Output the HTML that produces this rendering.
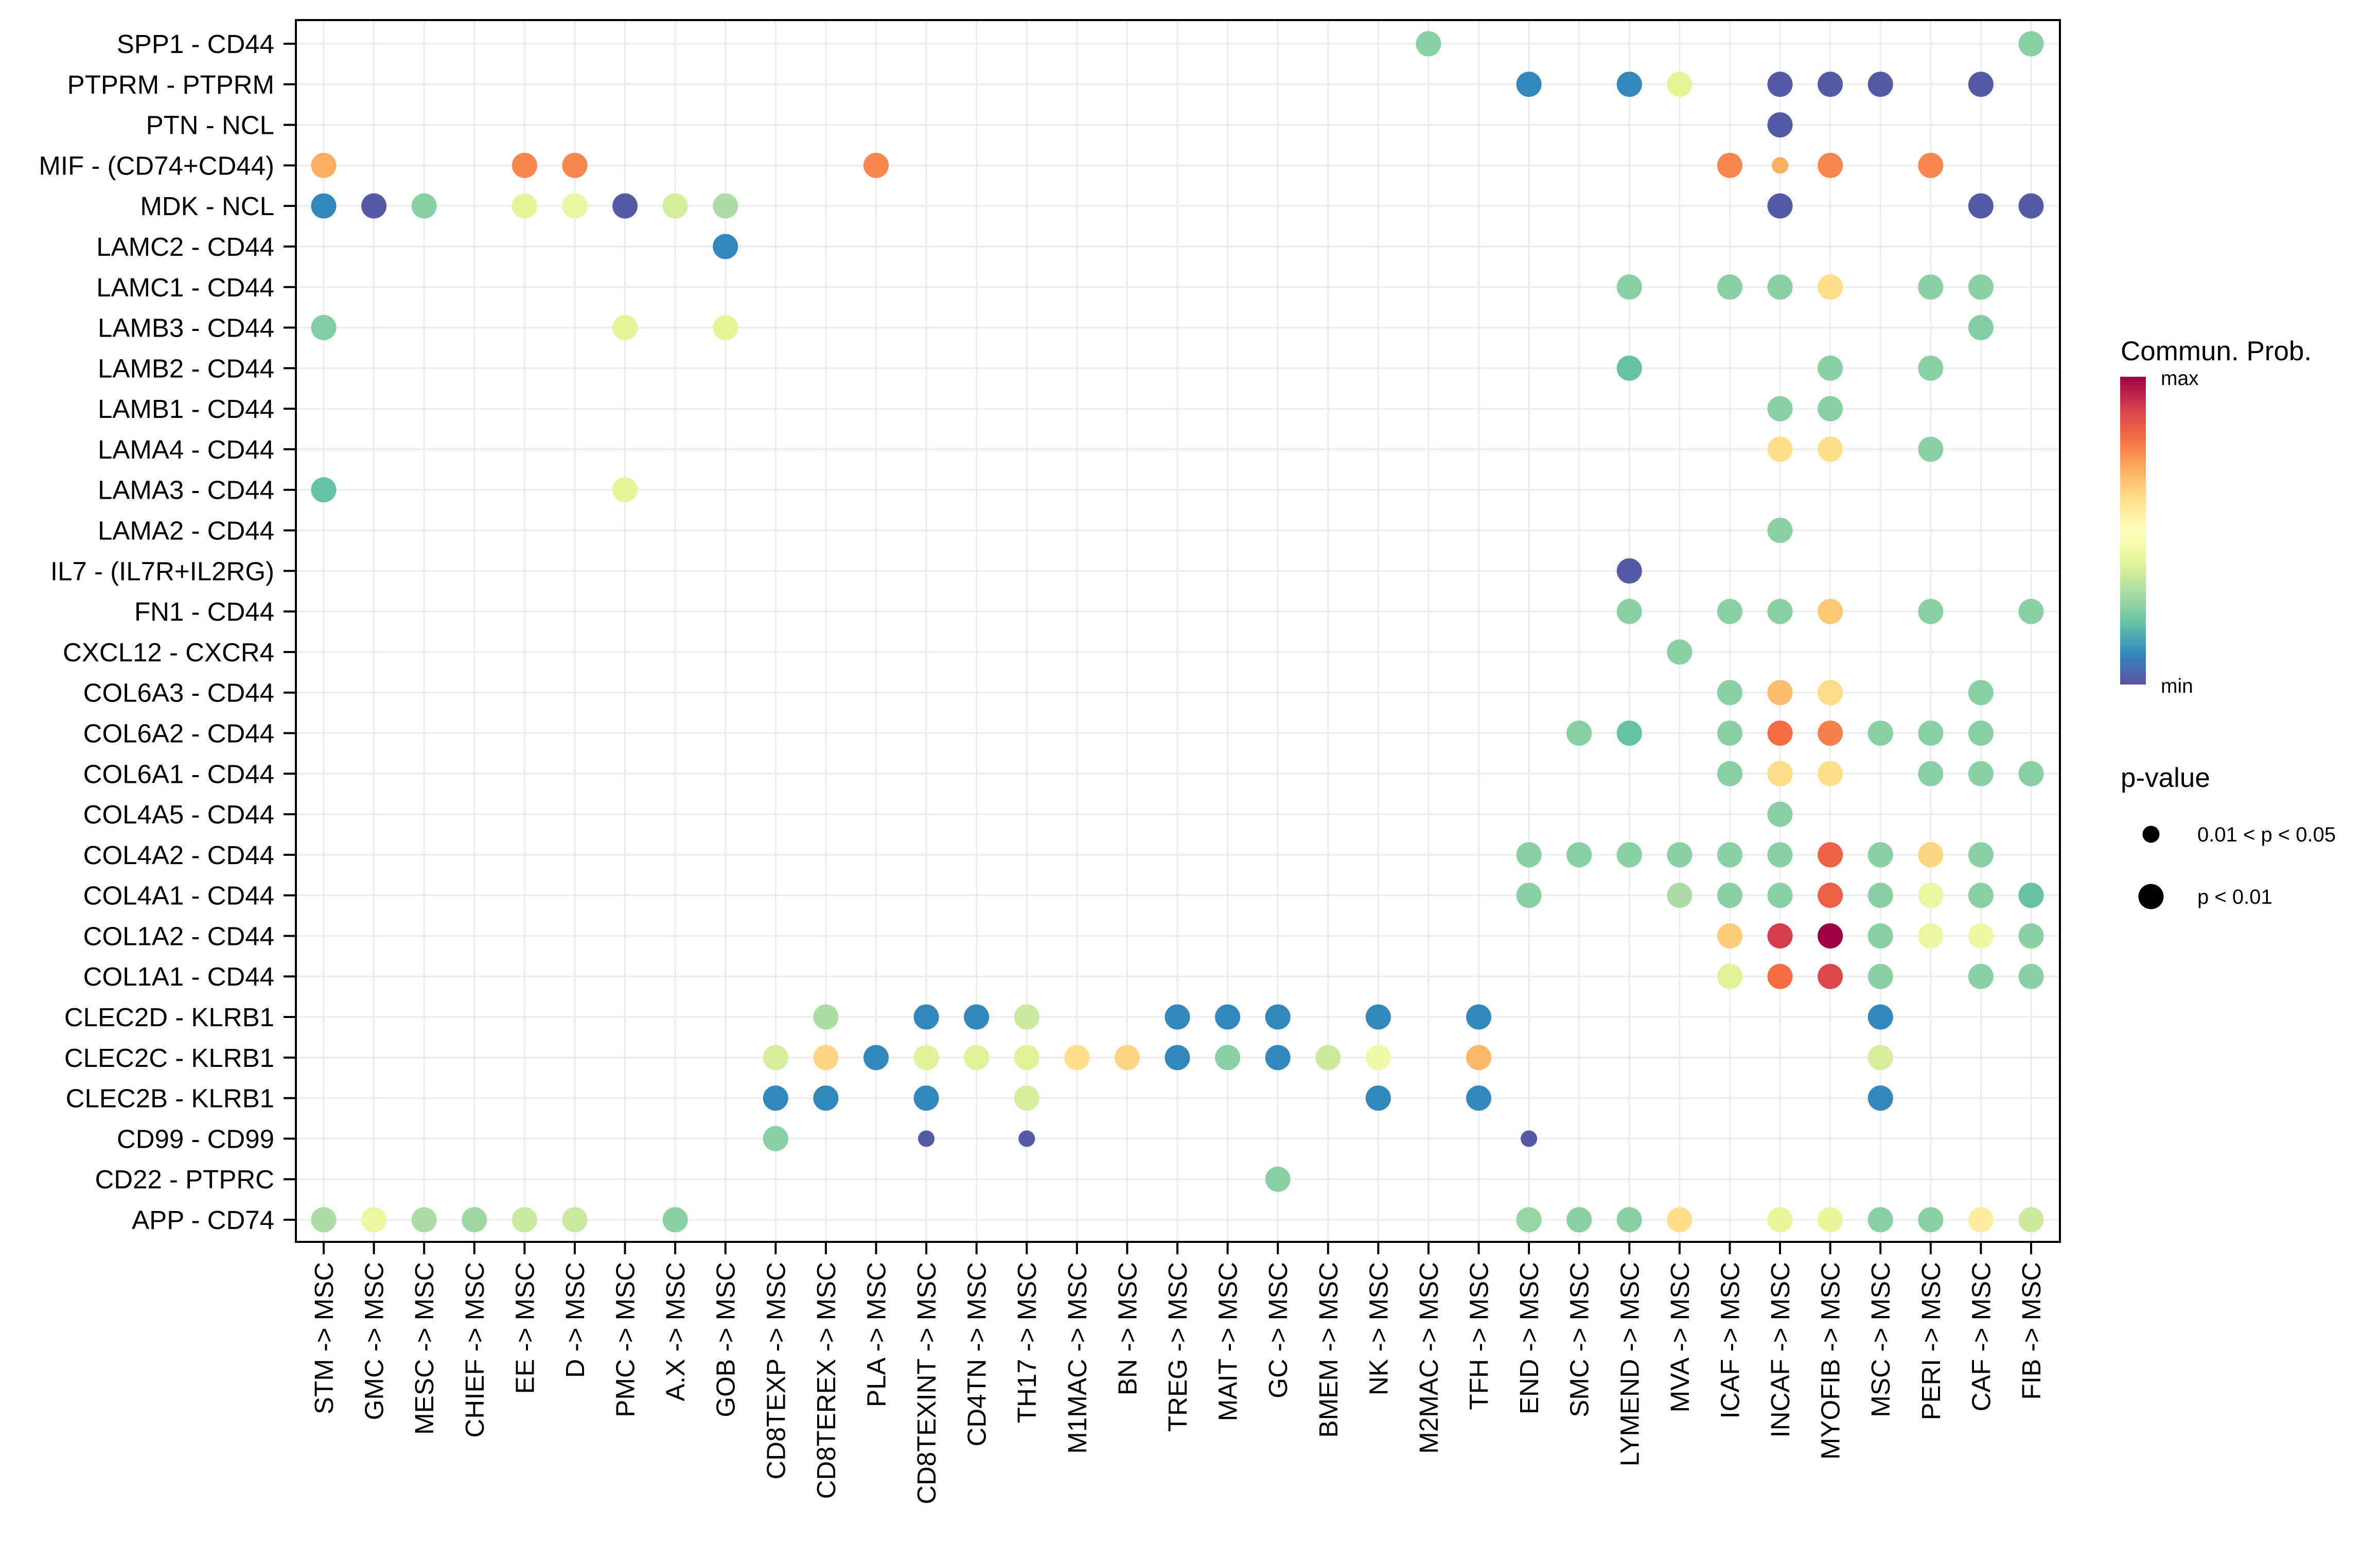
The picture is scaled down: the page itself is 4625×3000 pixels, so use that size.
<!DOCTYPE html>
<html><head><meta charset="utf-8"><style>
html,body{margin:0;padding:0;background:#fff;}
svg{display:block;font-family:"Liberation Sans",sans-serif;}
</style></head><body>
<svg id="chart" width="4625" height="3000" viewBox="0 0 4625 3000" xmlns="http://www.w3.org/2000/svg">
<defs>
<linearGradient id="spec" x1="0" y1="1" x2="0" y2="0">
<stop offset="0" stop-color="#5E4FA2"/><stop offset="0.1" stop-color="#3288BD"/><stop offset="0.2" stop-color="#66C2A5"/><stop offset="0.3" stop-color="#ABDDA4"/><stop offset="0.4" stop-color="#E6F598"/><stop offset="0.5" stop-color="#FFFFBF"/><stop offset="0.6" stop-color="#FEE08B"/><stop offset="0.7" stop-color="#FDAE61"/><stop offset="0.8" stop-color="#F46D43"/><stop offset="0.9" stop-color="#D53E4F"/><stop offset="1" stop-color="#9E0142"/>
</linearGradient>
</defs>
<g id="grid"></g>
<g id="marks"></g>
<rect x="575" y="39" width="3428" height="2374" fill="none" stroke="#000" stroke-width="4"/>
<g id="yaxis"></g>
<g id="xaxis"></g>
<g>
<text x="4121" y="700" font-size="53">Commun. Prob.</text>
<rect x="4120" y="732" width="50" height="598" fill="url(#spec)"/>
<text x="4199" y="748" font-size="39">max</text>
<text x="4199" y="1346" font-size="39">min</text>
</g>
<g>
<text x="4121" y="1529" font-size="53">p-value</text>
<circle cx="4180" cy="1621" r="16.5" fill="#000"/>
<text x="4270" y="1635" font-size="40">0.01 &lt; p &lt; 0.05</text>
<circle cx="4180" cy="1742" r="24.5" fill="#000"/>
<text x="4270" y="1756" font-size="40">p &lt; 0.01</text>
</g>
</svg>
<script>
const rowLabels = ["SPP1 - CD44","PTPRM - PTPRM","PTN - NCL","MIF - (CD74+CD44)","MDK - NCL","LAMC2 - CD44","LAMC1 - CD44","LAMB3 - CD44","LAMB2 - CD44","LAMB1 - CD44","LAMA4 - CD44","LAMA3 - CD44","LAMA2 - CD44","IL7 - (IL7R+IL2RG)","FN1 - CD44","CXCL12 - CXCR4","COL6A3 - CD44","COL6A2 - CD44","COL6A1 - CD44","COL4A5 - CD44","COL4A2 - CD44","COL4A1 - CD44","COL1A2 - CD44","COL1A1 - CD44","CLEC2D - KLRB1","CLEC2C - KLRB1","CLEC2B - KLRB1","CD99 - CD99","CD22 - PTPRC","APP - CD74"];
const colLabels = ["STM","GMC","MESC","CHIEF","EE","D","PMC","A.X","GOB","CD8TEXP","CD8TEREX","PLA","CD8TEXINT","CD4TN","TH17","M1MAC","BN","TREG","MAIT","GC","BMEM","NK","M2MAC","TFH","END","SMC","LYMEND","MVA","ICAF","INCAF","MYOFIB","MSC","PERI","CAF","FIB"].map(s=>s+" -> MSC");
const pointRows = [0,0, 1,1,1,1,1,1,1, 2, 3,3,3,3,3,3,3,3, 4,4,4,4,4,4,4,4,4,4,4, 5, 6,6,6,6,6,6, 7,7,7,7, 8,8,8, 9,9, 10,10,10, 11,11, 12, 13, 14,14,14,14,14,14, 15, 16,16,16,16, 17,17,17,17,17,17,17,17, 18,18,18,18,18,18, 19, 20,20,20,20,20,20,20,20,20,20, 21,21,21,21,21,21,21,21,21, 22,22,22,22,22,22,22, 23,23,23,23,23,23, 24,24,24,24,24,24,24,24,24,24, 25,25,25,25,25,25,25,25,25,25,25,25,25,25,25, 26,26,26,26,26,26,26, 27,27,27,27, 28, 29,29,29,29,29,29,29,29,29,29,29,29,29,29,29,29,29];
const pointCols = [22,34, 24,26,27,29,30,31,33, 29, 0,4,5,11,28,29,30,32, 0,1,2,4,5,6,7,8,29,33,34, 8, 26,28,29,30,32,33, 0,6,8,33, 26,30,32, 29,30, 29,30,32, 0,6, 29, 26, 26,28,29,30,32,34, 27, 28,29,30,33, 25,26,28,29,30,31,32,33, 28,29,30,32,33,34, 29, 24,25,26,27,28,29,30,31,32,33, 24,27,28,29,30,31,32,33,34, 28,29,30,31,32,33,34, 28,29,30,31,33,34, 10,12,13,14,17,18,19,21,23,31, 9,10,11,12,13,14,15,16,17,18,19,20,21,23,31, 9,10,12,14,21,23,31, 9,12,14,24, 19, 0,1,2,3,4,5,7,24,25,26,27,29,30,31,32,33,34];
const pointProb = [0.25,0.25, 0.1,0.1,0.4,0.02,0.02,0.02,0.02, 0.02, 0.7,0.76,0.76,0.76,0.76,0.7,0.76,0.76, 0.1,0.02,0.25,0.4,0.42,0.02,0.37,0.3,0.02,0.02,0.02, 0.1, 0.25,0.25,0.25,0.6,0.25,0.25, 0.24,0.4,0.4,0.24, 0.2,0.25,0.25, 0.25,0.25, 0.6,0.6,0.25, 0.2,0.4, 0.25, 0.02, 0.25,0.25,0.25,0.65,0.25,0.25, 0.25, 0.25,0.67,0.61,0.25, 0.25,0.2,0.25,0.8,0.77,0.25,0.25,0.25, 0.25,0.61,0.6,0.25,0.25,0.25, 0.25, 0.25,0.25,0.25,0.25,0.25,0.25,0.82,0.25,0.62,0.25, 0.25,0.3,0.25,0.25,0.83,0.25,0.42,0.25,0.2, 0.64,0.9,1.0,0.25,0.42,0.43,0.25, 0.39,0.8,0.88,0.25,0.25,0.25, 0.3,0.1,0.1,0.35,0.1,0.1,0.1,0.1,0.1,0.1, 0.37,0.62,0.1,0.39,0.39,0.39,0.6,0.62,0.1,0.25,0.1,0.36,0.44,0.68,0.37, 0.1,0.1,0.1,0.37,0.1,0.1,0.1, 0.25,0.02,0.02,0.02, 0.25, 0.3,0.42,0.3,0.28,0.35,0.35,0.25,0.27,0.25,0.25,0.6,0.41,0.41,0.25,0.25,0.56,0.36];
const pointSmallIdx = [15, 143, 144, 145];
const pointSig = pointRows.map((r,k)=>pointSmallIdx.includes(k)?0:1);

const NS="http://www.w3.org/2000/svg";
const px0=575, px1=4003, py0=39, py1=2413;
function xScale(i){return 629 + i*(3947-629)/(colLabels.length-1);}
function yScale(i){return 85 + i*(2370-85)/(rowLabels.length-1);}
const stops=["#5E4FA2","#3288BD","#66C2A5","#ABDDA4","#E6F598","#FFFFBF","#FEE08B","#FDAE61","#F46D43","#D53E4F","#9E0142"];
function hex(c){return [1,3,5].map(k=>parseInt(c.substr(k,2),16));}
function colorScale(v){v=Math.max(0,Math.min(1,v));const t=v*10;const i=Math.min(9,Math.floor(t));const f=t-i;const a=hex(stops[i]),b=hex(stops[i+1]);return "rgb("+a.map((x,k)=>Math.round(x+(b[k]-x)*f)).join(",")+")";}
function mk(tag,attrs,parent){const e=document.createElementNS(NS,tag);for(const k in attrs)e.setAttribute(k,attrs[k]);parent.appendChild(e);return e;}
const grid=document.getElementById('grid'), marks=document.getElementById('marks'), yax=document.getElementById('yaxis'), xax=document.getElementById('xaxis');
rowLabels.forEach((lab,i)=>{
  const y=yScale(i);
  const g=mk('line',{x1:px0,x2:px1,y1:y,y2:y,stroke:'#ebebeb','stroke-width':3},grid);
  
  
  const t=mk('line',{x1:551,x2:575,y1:y,y2:y,stroke:'#000','stroke-width':4},yax);
  
  
  const tx=mk('text',{x:533,y:y+18,'text-anchor':'end','font-size':51},yax);
  tx.textContent=lab;
  
  
});
colLabels.forEach((lab,i)=>{
  const x=xScale(i);
  const g=mk('line',{x1:x,x2:x,y1:py0,y2:py1,stroke:'#ebebeb','stroke-width':3},grid);
  
  
  const t=mk('line',{x1:x,x2:x,y1:py1,y2:py1+24,stroke:'#000','stroke-width':4},xax);
  
  
  const tx=mk('text',{x:0,y:0,'text-anchor':'end','font-size':51,transform:'translate('+(x+18)+',2452) rotate(-90)'},xax);
  tx.textContent=lab;
  
  
});
pointRows.forEach((r,k)=>{
  const c=mk('circle',{cx:xScale(pointCols[k]),cy:yScale(r),r:pointSig[k]?24.5:16,fill:colorScale(pointProb[k])},marks);
  
  
});
</script>
</body></html>
